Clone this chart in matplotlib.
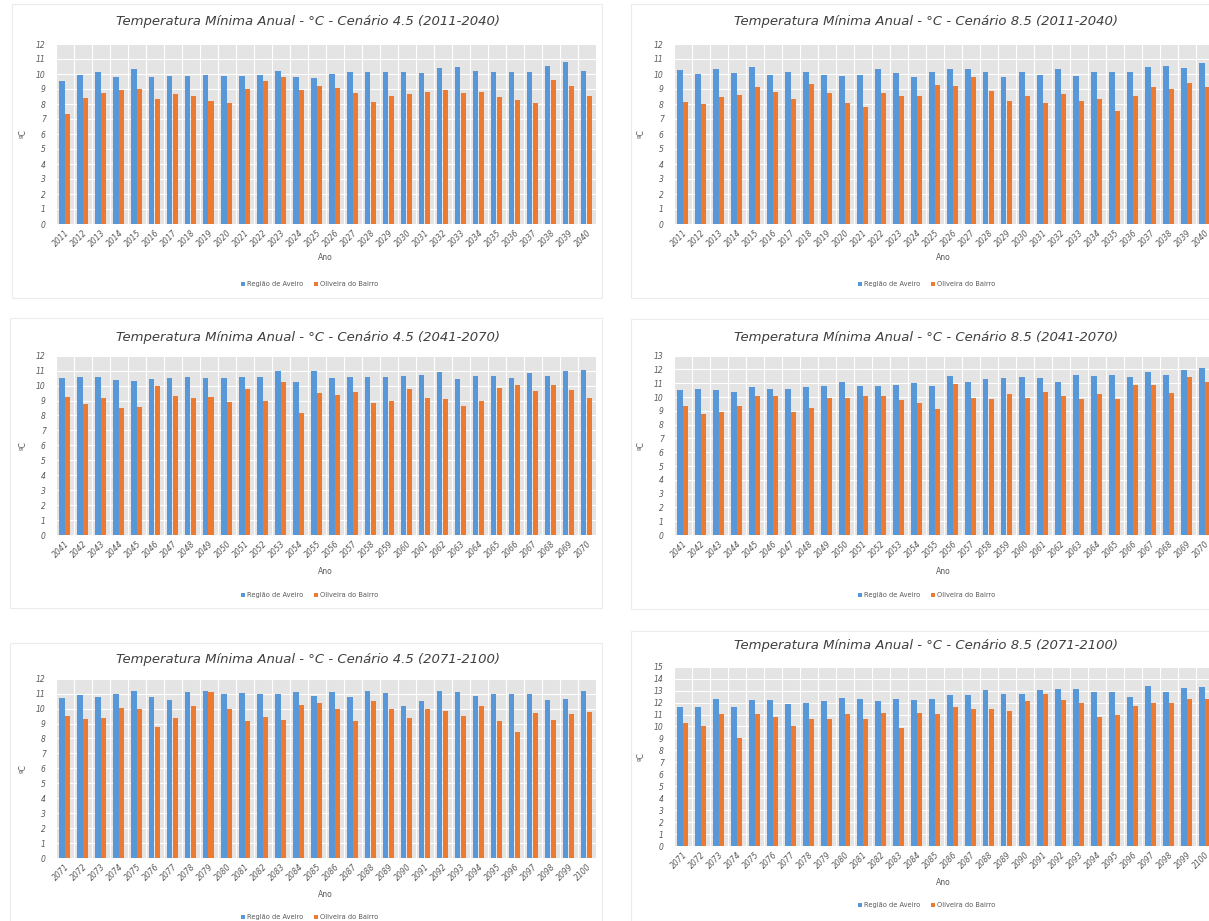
import matplotlib
matplotlib.use("Agg")
import matplotlib.pyplot as plt
from matplotlib.patches import Rectangle
import numpy as np

# ---------------- data ----------------
years_a = [str(y) for y in range(2011, 2041)]
years_b = [str(y) for y in range(2041, 2071)]
years_c = [str(y) for y in range(2071, 2101)]

series_names = ["Região de Aveiro", "Oliveira do Bairro"]

# Cenário 4.5 (2011-2040)
aveiro_45_a = [9.5, 9.95, 10.15, 9.8, 10.3, 9.8, 9.85, 9.85, 9.9, 9.85,
               9.85, 9.95, 10.2, 9.8, 9.75, 10.0, 10.1, 10.15, 10.1, 10.15,
               10.05, 10.4, 10.45, 10.2, 10.15, 10.15, 10.15, 10.5, 10.8, 10.2]
oliveira_45_a = [7.3, 8.4, 8.75, 8.95, 9.0, 8.35, 8.65, 8.55, 8.2, 8.05,
                 9.0, 9.55, 9.8, 8.95, 9.2, 9.05, 8.7, 8.1, 8.5, 8.65,
                 8.8, 8.9, 8.75, 8.8, 8.45, 8.25, 8.05, 9.6, 9.2, 8.5]

# Cenário 8.5 (2011-2040)
aveiro_85_a = [10.25, 10.0, 10.3, 10.05, 10.45, 9.9, 10.15, 10.15, 9.9, 9.85,
               9.9, 10.3, 10.05, 9.8, 10.15, 10.3, 10.35, 10.1, 9.8, 10.15,
               9.9, 10.35, 9.85, 10.1, 10.1, 10.15, 10.45, 10.55, 10.4, 10.75]
oliveira_85_a = [8.1, 8.0, 8.45, 8.6, 9.15, 8.8, 8.3, 9.3, 8.75, 8.05,
                 7.8, 8.7, 8.55, 8.55, 9.25, 9.2, 9.8, 8.85, 8.2, 8.55,
                 8.05, 8.65, 8.2, 8.3, 7.55, 8.5, 9.15, 9.0, 9.4, 9.15]

# Cenário 4.5 (2041-2070)
aveiro_45_b = [10.5, 10.55, 10.6, 10.4, 10.3, 10.45, 10.5, 10.55, 10.5, 10.5,
               10.55, 10.6, 11.0, 10.25, 11.0, 10.5, 10.55, 10.55, 10.55, 10.65,
               10.7, 10.9, 10.45, 10.65, 10.65, 10.5, 10.85, 10.65, 11.0, 11.05]
oliveira_45_b = [9.25, 8.8, 9.15, 8.5, 8.6, 9.95, 9.3, 9.15, 9.25, 8.9,
                 9.8, 8.95, 10.25, 8.15, 9.5, 9.4, 9.55, 8.85, 9.0, 9.8,
                 9.15, 9.1, 8.65, 9.0, 9.85, 10.05, 9.65, 10.05, 9.7, 9.2]

# Cenário 8.5 (2041-2070)
aveiro_85_b = [10.5, 10.6, 10.5, 10.4, 10.7, 10.55, 10.55, 10.7, 10.8, 11.1,
               10.8, 10.8, 10.85, 11.0, 10.8, 11.5, 11.1, 11.3, 11.35, 11.45,
               11.35, 11.1, 11.6, 11.5, 11.6, 11.45, 11.8, 11.6, 11.95, 12.1]
oliveira_85_b = [9.35, 8.8, 8.9, 9.35, 10.1, 10.05, 8.95, 9.2, 9.9, 9.95,
                 10.1, 10.1, 9.8, 9.6, 9.1, 10.95, 9.9, 9.85, 10.25, 9.95,
                 10.4, 10.05, 9.85, 10.2, 9.85, 10.9, 10.85, 10.3, 11.45, 11.1]

# Cenário 4.5 (2071-2100)
aveiro_45_c = [10.7, 10.9, 10.75, 11.0, 11.2, 10.75, 10.6, 11.1, 11.15, 10.95,
               11.05, 11.0, 10.95, 11.1, 10.85, 11.1, 10.8, 11.15, 11.05, 10.2,
               10.5, 11.15, 11.1, 10.85, 10.95, 11.0, 11.0, 10.6, 10.65, 11.15]
oliveira_45_c = [9.5, 9.3, 9.35, 10.05, 10.0, 8.75, 9.35, 10.2, 11.1, 9.95,
                 9.2, 9.45, 9.25, 10.25, 10.4, 10.0, 9.15, 10.5, 9.95, 9.4,
                 9.95, 9.85, 9.5, 10.2, 9.2, 8.4, 9.7, 9.25, 9.65, 9.75]

# Cenário 8.5 (2071-2100)
aveiro_85_c = [11.6, 11.6, 12.3, 11.65, 12.2, 12.2, 11.85, 11.95, 12.15, 12.4,
               12.3, 12.1, 12.3, 12.2, 12.3, 12.65, 12.6, 13.05, 12.7, 12.75,
               13.05, 13.1, 13.1, 12.9, 12.85, 12.45, 13.4, 12.85, 13.2, 13.3]
oliveira_85_c = [10.25, 10.0, 11.05, 9.05, 11.05, 10.8, 10.0, 10.65, 10.65, 11.05,
                 10.65, 11.15, 9.9, 11.15, 11.05, 11.6, 11.45, 11.45, 11.3, 12.15,
                 12.75, 12.2, 12.0, 10.8, 10.95, 11.7, 11.95, 11.95, 12.3, 12.3]

y_max = {"45a": 12, "85a": 12, "45b": 12, "85b": 13, "45c": 12, "85c": 15}

# ---------------- style ----------------
W, H = 1209, 921
BLUE = "#5897d8"
ORANGE = "#ec7b31"
BG = "#e4e4e4"
TXT = "#595959"

fig = plt.figure(figsize=(W / 100, H / 100), dpi=100)
fig.patch.set_facecolor("white")


def fx(px):
    return px / W


def fy(py):
    return 1 - py / H


# panel cards (faint borders)
cards = [(12, 4, 590, 294), (631, 4, 600, 294), (10, 318, 592, 290),
         (631, 319, 600, 290), (10, 643, 592, 290), (631, 631, 600, 290)]
for (cx, cy, cw, ch) in cards:
    fig.patches.append(Rectangle((fx(cx), fy(cy + ch)), cw / W, ch / H,
                                 transform=fig.transFigure, fill=False,
                                 edgecolor="#ececec", linewidth=0.8, zorder=0))

panels = [
    # (categories, aveiro, oliveira, ymax, left px, top px, bottom px, title, title y, ano y, legend y)
    (years_a, aveiro_45_a, oliveira_45_a, y_max["45a"], 55.5, 44, 224,
     "Temperatura Mínima Anual - °C - Cenário 4.5 (2011-2040)", 22, 257, 284),
    (years_a, aveiro_85_a, oliveira_85_a, y_max["85a"], 673.5, 44, 224,
     "Temperatura Mínima Anual - °C - Cenário 8.5 (2011-2040)", 22, 257, 284),
    (years_b, aveiro_45_b, oliveira_45_b, y_max["45b"], 55.5, 355.7, 535,
     "Temperatura Mínima Anual - °C - Cenário 4.5 (2041-2070)", 337, 571, 595),
    (years_b, aveiro_85_b, oliveira_85_b, y_max["85b"], 673.5, 355.7, 535,
     "Temperatura Mínima Anual - °C - Cenário 8.5 (2041-2070)", 337, 571, 595),
    (years_c, aveiro_45_c, oliveira_45_c, y_max["45c"], 55.5, 678.7, 858,
     "Temperatura Mínima Anual - °C - Cenário 4.5 (2071-2100)", 659, 894, 917),
    (years_c, aveiro_85_c, oliveira_85_c, y_max["85c"], 673.5, 666.7, 846,
     "Temperatura Mínima Anual - °C - Cenário 8.5 (2071-2100)", 646, 882, 905),
]

PLOT_W = 540
bw = 0.31

for (cats, av, ol, ymax, lpx, tpx, bpx, title, ty, anoy, legy) in panels:
    ax = fig.add_axes([fx(lpx), fy(bpx), PLOT_W / W, (bpx - tpx) / H])
    ax.set_facecolor(BG)
    x = np.arange(len(cats))
    b1 = ax.bar(x - bw / 2, av, width=bw, color=BLUE, zorder=3,
                label=series_names[0])
    b2 = ax.bar(x + bw / 2, ol, width=bw, color=ORANGE, zorder=3,
                label=series_names[1])
    ax.set_xlim(-0.5, len(cats) - 0.5)
    ax.set_ylim(0, ymax)
    ax.set_yticks(range(0, ymax + 1))
    ax.set_yticklabels([str(v) for v in range(0, ymax + 1)],
                       fontsize=5.5, color=TXT, style="italic")
    ax.set_xticks(x)
    ax.set_xticklabels(cats, rotation=45, ha="right", va="top",
                       rotation_mode="anchor", fontsize=5.5, color=TXT,
                       style="italic")
    ax.tick_params(axis="both", length=0)
    ax.tick_params(axis="y", pad=7)
    ax.tick_params(axis="x", pad=3)
    # gridlines
    ax.set_axisbelow(True)
    ax.grid(axis="y", color="white", linewidth=0.8)
    for b in np.arange(-0.5, len(cats), 1.0):
        ax.axvline(b, color="white", linewidth=0.8, zorder=1)
    for s in ax.spines.values():
        s.set_visible(False)
    ax.axhline(0, color="#d0d0d0", linewidth=0.6, zorder=4)

    ax.set_ylabel("ºC", fontsize=5.5, color=TXT, labelpad=6)

    cx = lpx + PLOT_W / 2
    fig.text(fx(cx - 18 if lpx < 300 else cx - 17), fy(ty), title,
             ha="center", va="center", fontsize=9.5, style="italic",
             color="#404040")
    fig.text(fx(cx), fy(anoy), "Ano", ha="center", va="center",
             fontsize=5.5, color=TXT)
    leg_cx = cx - 16 if lpx < 300 else cx - 17
    ax.legend(handles=[b1, b2], loc="center", ncol=2,
              bbox_to_anchor=(fx(leg_cx), fy(legy)),
              bbox_transform=fig.transFigure, frameon=False,
              fontsize=4.8, handlelength=0.6, handleheight=0.6,
              handletextpad=0.3, columnspacing=1.6, labelcolor=TXT)

fig.savefig("out.png", dpi=100)
